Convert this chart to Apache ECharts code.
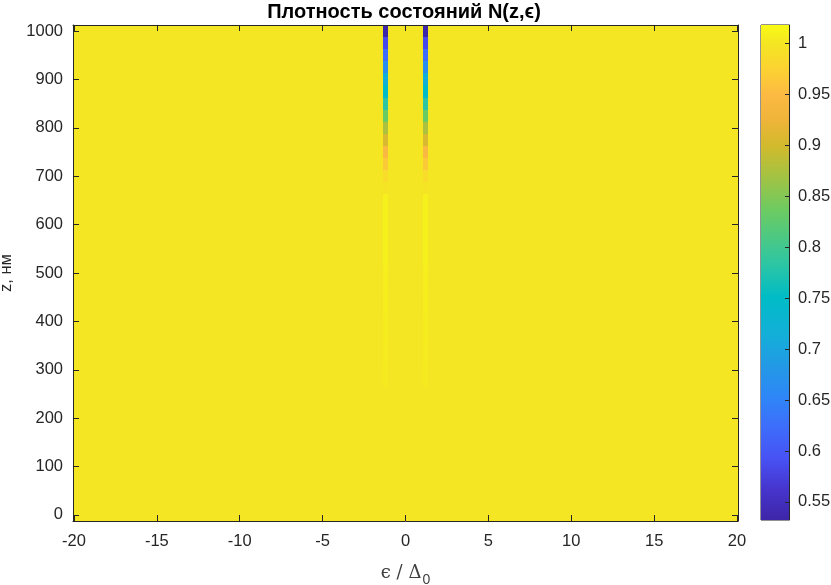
<!DOCTYPE html>
<html><head><meta charset="utf-8">
<script src="https://cdn.jsdelivr.net/npm/echarts@6/dist/echarts.min.js"></script>
<style>html,body{margin:0;padding:0;background:#fff}#c{width:831px;height:585px}</style>
</head><body><div id="c"></div>
<script>
// ---- data ----
const zValues = [0,25,50,75,100,125,150,175,200,225,250,275,300,325,350,375,400,425,450,475,500,
                 525,550,575,600,625,650,675,700,725,750,775,800,825,850,875,900,925,950,975,1000];
// density of states along the two narrow stripes (eps ≈ ±1.2), z ascending
const stripeN = [1.000,1.000,1.000,1.000,1.000,1.000,1.000,1.000,1.000,1.000,1.000,
                 1.002,1.003,1.004,1.004,1.005,1.005,1.006,1.006,1.007,1.007,
                 1.008,1.008,1.009,1.009,1.009,1.008,0.997,0.985,0.965,0.945,
                 0.905,0.875,0.835,0.785,0.750,0.715,0.665,0.625,0.585,0.5323];
const stripeCenters = [-1.2, 1.2];
const stripeHalf = 0.15;
const backgroundN = 1.0;
const epsRange = [-20.06, 20.06];
const zRange = [-12.5, 1012.5];
const zStep = 25;
const xTicks = [-20,-15,-10,-5,0,5,10,15,20];
const yTicks = [0,100,200,300,400,500,600,700,800,900,1000];
const cbTicks = [0.55,0.6,0.65,0.7,0.75,0.8,0.85,0.9,0.95,1];
const cbRange = [0.5323, 1.0177];

// parula-like colormap stops
const parula = [
  [0.00,'#3e26a8'],[0.06,'#4634cc'],[0.125,'#4852f4'],[0.19,'#3d6efb'],[0.25,'#2e87f7'],
  [0.31,'#2399e6'],[0.375,'#13afd8'],[0.45,'#00bcc6'],[0.52,'#2ec6a2'],[0.625,'#6ccb62'],
  [0.70,'#a8c240'],[0.757,'#d2ba2c'],[0.81,'#f0b43a'],[0.86,'#fcba42'],[0.91,'#fcd232'],
  [0.963,'#f4e622'],[1.00,'#f9fb15']
];
function hex2rgb(h){return [parseInt(h.slice(1,3),16),parseInt(h.slice(3,5),16),parseInt(h.slice(5,7),16)];}
function colorOf(v){
  let t=(v-cbRange[0])/(cbRange[1]-cbRange[0]); t=Math.max(0,Math.min(1,t));
  for(let i=1;i<parula.length;i++){
    if(t<=parula[i][0]){
      const a=parula[i-1],b=parula[i],f=(t-a[0])/(b[0]-a[0]);
      const ca=hex2rgb(a[1]),cb=hex2rgb(b[1]);
      return 'rgb('+ca.map((c,k)=>Math.round(c+(cb[k]-c)*f)).join(',')+')';
    }
  }
  return parula[parula.length-1][1];
}

// build cells
const cells = [];
const segs = [[epsRange[0], stripeCenters[0]-stripeHalf],[stripeCenters[0]+stripeHalf, stripeCenters[1]-stripeHalf],[stripeCenters[1]+stripeHalf, epsRange[1]]];
zValues.forEach((z,i)=>{
  segs.forEach(s=>cells.push([s[0],s[1],z,backgroundN]));
  stripeCenters.forEach(c=>cells.push([c-stripeHalf,c+stripeHalf,z,stripeN[i]]));
});

const axColor='#262626';
const FONT='"Liberation Sans", Arial, Helvetica, sans-serif';
const FS=16.5;
const chart = echarts.init(document.getElementById('c'));
chart.setOption({
  animation:false,
  graphic:[{type:'text', x:404, y:2, z:100, style:{text:'Плотность состояний N(z,ϵ)', font:'bold 20px '+FONT, fill:'#000', textAlign:'center', textVerticalAlign:'top'}}],
  grid:[
    {left:73, right:93, top:25, bottom:64, containLabel:false, outerBoundsMode:'none'},
    {left:761, width:28, top:25, bottom:65, containLabel:false, outerBoundsMode:'none', show:true, borderColor:axColor, borderWidth:1, backgroundColor:'transparent'}
  ],
  xAxis:[
    {type:'value', gridIndex:0, z:10, min:epsRange[0], max:epsRange[1], position:'bottom',
     axisLine:{show:true,onZero:false,lineStyle:{color:axColor,width:1}},
     axisTick:{show:true,inside:true,length:6,customValues:xTicks,lineStyle:{color:axColor}},
     axisLabel:{customValues:xTicks,margin:12,color:axColor,fontSize:FS,fontFamily:FONT,formatter:v=>String(v)},
     splitLine:{show:false},
     name:'{m|ϵ / Δ}{s|0}', nameLocation:'middle', nameGap:43,
     nameTextStyle:{rich:{
       m:{fontSize:18,fontFamily:'"DejaVu Serif","Liberation Serif",serif',color:'#404040',lineHeight:20,verticalAlign:'top'},
       s:{fontSize:14,fontFamily:FONT,color:'#404040',lineHeight:14,padding:[9,0,0,1],verticalAlign:'top'}}}},
    {type:'value', gridIndex:0, z:10, min:epsRange[0], max:epsRange[1], position:'top',
     axisLine:{show:true,onZero:false,lineStyle:{color:axColor,width:1}},
     axisTick:{show:true,inside:true,length:6,customValues:xTicks,lineStyle:{color:axColor}},
     axisLabel:{show:false}, splitLine:{show:false}},
    {type:'value', gridIndex:1, min:0, max:1, show:false}
  ],
  yAxis:[
    {type:'value', gridIndex:0, z:10, min:zRange[0], max:zRange[1], position:'left',
     axisLine:{show:true,onZero:false,lineStyle:{color:axColor,width:1}},
     axisTick:{show:true,inside:true,length:6,customValues:yTicks,lineStyle:{color:axColor}},
     axisLabel:{customValues:yTicks,margin:10,color:axColor,fontSize:FS,fontFamily:FONT,formatter:v=>String(v)},
     splitLine:{show:false},
     name:'z, нм', nameLocation:'middle', nameGap:54, nameRotate:90,
     nameTextStyle:{color:axColor,fontSize:FS,fontFamily:FONT}},
    {type:'value', gridIndex:0, z:10, min:zRange[0], max:zRange[1], position:'right',
     axisLine:{show:true,onZero:false,lineStyle:{color:axColor,width:1}},
     axisTick:{show:true,inside:true,length:6,customValues:yTicks,lineStyle:{color:axColor}},
     axisLabel:{show:false}, splitLine:{show:false}},
    {type:'value', gridIndex:1, z:10, min:cbRange[0], max:cbRange[1], position:'right',
     axisLine:{show:true,onZero:false,lineStyle:{color:axColor,width:1}},
     axisTick:{show:true,inside:true,length:4,customValues:cbTicks,lineStyle:{color:axColor}},
     axisLabel:{customValues:cbTicks,margin:9,color:axColor,fontSize:FS,fontFamily:FONT,formatter:v=>String(v)},
     splitLine:{show:false}}
  ],
  series:[
    {type:'custom', z:1, xAxisIndex:0, yAxisIndex:0, clip:true, data:cells,
     renderItem:function(params,api){
       const x0=api.value(0),x1=api.value(1),z=api.value(2),v=api.value(3);
       const p0=api.coord([x0,z+zStep/2]), p1=api.coord([x1,z-zStep/2]);
       const X0=Math.round(p0[0]),X1=Math.round(p1[0]),Y0=Math.round(p0[1]),Y1=Math.round(p1[1]);
       return {type:'rect',shape:{x:X0,y:Y0,width:X1-X0,height:Y1-Y0},style:{fill:colorOf(v)}};
     }},
    {type:'custom', z:1, xAxisIndex:2, yAxisIndex:2, data:[[0]],
     renderItem:function(params,api){
       const p0=api.coord([0,cbRange[1]]), p1=api.coord([1,cbRange[0]]);
       return {type:'rect',shape:{x:p0[0],y:p0[1],width:p1[0]-p0[0],height:p1[1]-p0[1]},
         style:{fill:new echarts.graphic.LinearGradient(0,1,0,0,parula.map(s=>({offset:s[0],color:s[1]})))}};
     }}
  ]
});
</script></body></html>
